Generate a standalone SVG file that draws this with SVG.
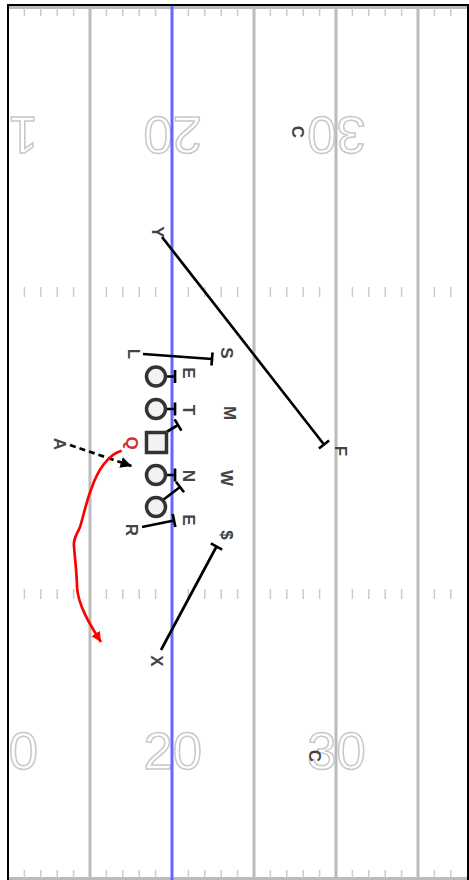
<svg xmlns="http://www.w3.org/2000/svg" width="469" height="880" viewBox="0 0 469 880">
<defs>
<style>
.yl{stroke:#bbbbbb;stroke-width:3;fill:none}
.tk{stroke:#cccccc;stroke-width:1.5;fill:none}
.num{font-family:"Liberation Sans",Arial,sans-serif;font-size:52.5px;fill:#ffffff;stroke:#c8c8c8;stroke-width:1.5;text-anchor:middle}
.lbl{font-family:"Liberation Sans",Arial,sans-serif;font-size:17px;font-weight:bold;fill:#444444;text-anchor:middle;dominant-baseline:central}
.q{fill:#d03030}
.pl{fill:#f2f2f2;stroke:#333333;stroke-width:3.5}
.rt{stroke:#000000;stroke-width:2.7;fill:none}
</style>
<clipPath id="fc"><rect x="8" y="5" width="460" height="876"/></clipPath>
<marker id="ab" viewBox="0 0 10 10" refX="10" refY="5" markerWidth="11" markerHeight="11" markerUnits="userSpaceOnUse" orient="auto"><path d="M0,0 L10,5 L0,10 z" fill="#000000"/></marker>
<marker id="ar" viewBox="0 0 10 10" refX="10" refY="5" markerWidth="10" markerHeight="10" markerUnits="userSpaceOnUse" orient="auto"><path d="M0,0 L10,5 L0,10 z" fill="#ff0000"/></marker>
</defs>
<rect x="0" y="0" width="469" height="880" fill="#ffffff"/>
<g id="field" clip-path="url(#fc)">
<line class="yl" x1="0" y1="7.5" x2="469" y2="7.5"/>
<line class="yl" x1="0" y1="878.5" x2="469" y2="878.5"/>
<path class="tk" d="M24.4,8V16M40.8,8V16M57.2,8V16M73.6,8V16M106.4,8V16M122.8,8V16M139.2,8V16M155.6,8V16M188.4,8V16M204.8,8V16M221.2,8V16M237.6,8V16M270.4,8V16M286.8,8V16M303.2,8V16M319.6,8V16M352.4,8V16M368.8,8V16M385.2,8V16M401.6,8V16M434.4,8V16M450.8,8V16"/>
<path class="tk" d="M24.4,870V878M40.8,870V878M57.2,870V878M73.6,870V878M106.4,870V878M122.8,870V878M139.2,870V878M155.6,870V878M188.4,870V878M204.8,870V878M221.2,870V878M237.6,870V878M270.4,870V878M286.8,870V878M303.2,870V878M319.6,870V878M352.4,870V878M368.8,870V878M385.2,870V878M401.6,870V878M434.4,870V878M450.8,870V878"/>
<path class="tk" d="M24.4,287V297M40.8,287V297M57.2,287V297M73.6,287V297M106.4,287V297M122.8,287V297M139.2,287V297M155.6,287V297M188.4,287V297M204.8,287V297M221.2,287V297M237.6,287V297M270.4,287V297M286.8,287V297M303.2,287V297M319.6,287V297M352.4,287V297M368.8,287V297M385.2,287V297M401.6,287V297M434.4,287V297M450.8,287V297"/>
<path class="tk" d="M24.4,589V599M40.8,589V599M57.2,589V599M73.6,589V599M106.4,589V599M122.8,589V599M139.2,589V599M155.6,589V599M188.4,589V599M204.8,589V599M221.2,589V599M237.6,589V599M270.4,589V599M286.8,589V599M303.2,589V599M319.6,589V599M352.4,589V599M368.8,589V599M385.2,589V599M401.6,589V599M434.4,589V599M450.8,589V599"/>
<line class="yl" x1="90" y1="0" x2="90" y2="880"/>
<line class="yl" x1="254" y1="0" x2="254" y2="880"/>
<line class="yl" x1="336" y1="0" x2="336" y2="880"/>
<line class="yl" x1="418" y1="0" x2="418" y2="880"/>
<text class="num" x="8.7" y="769.3">10</text>
<text class="num" x="172.7" y="769.3">20</text>
<text class="num" x="336.5" y="769.3">30</text>
<text class="num" x="8.7" y="155.1" transform="rotate(180 8.7 136.2)">10</text>
<text class="num" x="172.7" y="155.1" transform="rotate(180 172.7 136.2)">20</text>
<text class="num" x="336.5" y="155.1" transform="rotate(180 336.5 136.2)">30</text>
<line x1="172" y1="0" x2="172" y2="880" stroke="#6666ff" stroke-width="3"/>
</g>
<rect x="8" y="5" width="460" height="876" fill="none" stroke="#000000" stroke-width="2"/>
<g id="connectors">
<path class="rt" d="M165.5,376.5H175M175,370V383"/>
<path class="rt" d="M165.5,409H175M175,402.5V415.5"/>
<path class="rt" d="M166.5,432L178,425M174.6,419.4L181.4,430.6"/>
<path class="rt" d="M165.5,475H175M175,468.5V481.5"/>
<path class="rt" d="M163,500L180,487M176,481.8L184,492.2"/>
<path class="rt" d="M142,527L174,520.5M172.7,514L175.3,527"/>
<path class="rt" d="M143,354L212,359M212.5,352.5L211.5,365.5"/>
<path class="rt" d="M162,237L324,444.5M318.9,448.5L329.1,440.5"/>
<path class="rt" d="M161,650L216.5,546.5M210.8,543.4L222.2,549.6"/>
<line x1="70" y1="445" x2="131.5" y2="466" stroke="#000000" stroke-width="2.7" stroke-dasharray="6,4" marker-end="url(#ab)"/>
<path d="M121.7,450.7C108,454 97,472 92,487C86,502 83,518 80,527C77,535 73,538 74,546C75,560 77,575 77,587C78,605 90,625 101,642" fill="none" stroke="#ff0000" stroke-width="2.7" marker-end="url(#ar)"/>
</g>
<g id="p1"><circle class="pl" cx="156" cy="376.5" r="9.5"/></g>
<g id="p2"><circle class="pl" cx="156" cy="409" r="9.5"/></g>
<g id="center"><rect class="pl" x="146.5" y="432.5" width="20" height="20"/></g>
<g id="p3"><circle class="pl" cx="156" cy="475" r="9.5"/></g>
<g id="p4"><circle class="pl" cx="156" cy="507" r="9.5"/></g>
<g id="labels">
<text class="lbl" x="297" y="132" transform="rotate(90 297 132)">C</text>
<text class="lbl" x="314" y="756" transform="rotate(90 314 756)">C</text>
<text class="lbl" x="157" y="232" transform="rotate(90 157 232)">Y</text>
<text class="lbl" x="133" y="354" transform="rotate(90 133 354)">L</text>
<text class="lbl" x="226" y="353" transform="rotate(90 226 353)">S</text>
<text class="lbl" x="188" y="373" transform="rotate(90 188 373)">E</text>
<text class="lbl" x="188" y="410" transform="rotate(90 188 410)">T</text>
<text class="lbl" x="229" y="413" transform="rotate(90 229 413)">M</text>
<text class="lbl" x="340" y="451" transform="rotate(90 340 451)">F</text>
<text class="lbl q" x="131" y="443" transform="rotate(90 131 443)">Q</text>
<text class="lbl" x="226" y="478" transform="rotate(90 226 478)">W</text>
<text class="lbl" x="188" y="476" transform="rotate(90 188 476)">N</text>
<text class="lbl" x="188" y="520" transform="rotate(90 188 520)">E</text>
<text class="lbl" x="131" y="530" transform="rotate(90 131 530)">R</text>
<text class="lbl" x="226" y="535" transform="rotate(90 226 535)">$</text>
<text class="lbl" x="156" y="661" transform="rotate(90 156 661)">X</text>
<text class="lbl" x="59" y="444" transform="rotate(90 59 444)">A</text>
</g>
</svg>
